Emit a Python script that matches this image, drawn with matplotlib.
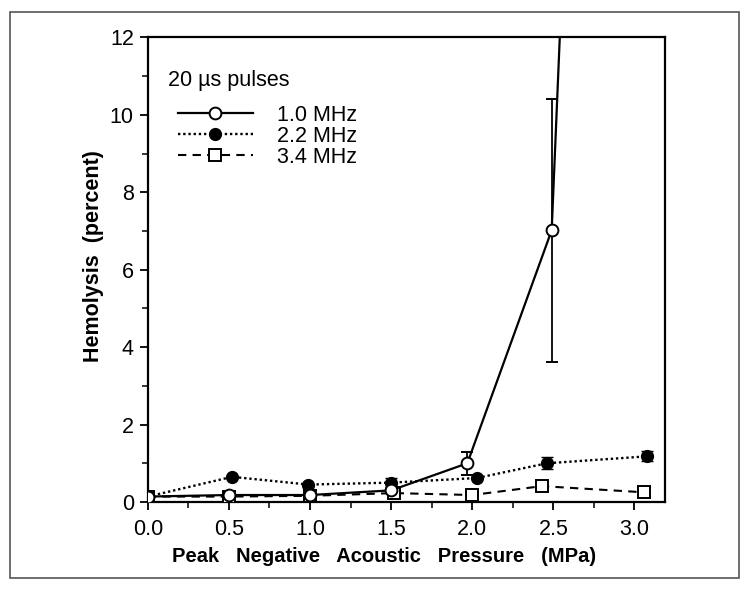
import matplotlib
matplotlib.use("Agg")
import matplotlib.pyplot as plt
from matplotlib.ticker import MultipleLocator, FormatStrFormatter
from matplotlib.patches import Rectangle
from matplotlib.lines import Line2D

plt.rcParams['font.family'] = ['Liberation Sans', 'DejaVu Sans']

# Data
x_10 = [0.0, 0.5, 1.0, 1.5, 1.97, 2.49, 3.08]
y_10 = [0.14, 0.18, 0.18, 0.30, 1.0, 7.02, 66.0]
e_10 = [0.0, 0.0, 0.0, 0.0, 0.3, 3.4, 0.0]

x_22 = [0.0, 0.52, 0.99, 1.50, 2.03, 2.46, 3.08]
y_22 = [0.14, 0.65, 0.45, 0.50, 0.62, 1.00, 1.18]
e_22 = [0.0, 0.0, 0.0, 0.12, 0.0, 0.15, 0.13]

x_34 = [0.0, 0.5, 1.0, 1.52, 2.00, 2.43, 3.06]
y_34 = [0.14, 0.14, 0.16, 0.23, 0.18, 0.41, 0.25]

labels = ["1.0 MHz", "2.2 MHz", "3.4 MHz"]
title_text = "20 \u00b5s pulses"
xlabel = "Peak   Negative   Acoustic   Pressure   (MPa)"
ylabel = "Hemolysis  (percent)"

dot = (0, (1, 1.2))
dash = (0, (4, 3))
ms = 8.5

fig = plt.figure(figsize=(7.5, 5.91), dpi=100)
ax = fig.add_axes([0.197, 0.1506, 0.69, 0.786])

# outer frame
fig.patches.append(Rectangle((0.013, 0.022), 0.972, 0.958, transform=fig.transFigure,
                             fill=False, edgecolor='#555555', linewidth=1.2))

ax.errorbar(x_22, y_22, yerr=e_22, fmt='o', linestyle=dot, color='black',
            markerfacecolor='black', markersize=ms, linewidth=1.7, capsize=4,
            elinewidth=1.5, zorder=3)
ax.errorbar(x_34, y_34, fmt='s', linestyle=dash, color='black',
            markerfacecolor='white', markersize=ms - 0.5, markeredgewidth=1.4,
            linewidth=1.5, zorder=4)
ax.errorbar(x_10, y_10, yerr=e_10, fmt='o', linestyle='-', color='black',
            markerfacecolor='white', markersize=ms, markeredgewidth=1.4,
            linewidth=1.6, capsize=4, elinewidth=1.3, zorder=5)

ax.set_xlim(0, 3.19)
ax.set_ylim(0, 12)
ax.xaxis.set_major_locator(MultipleLocator(0.5))
ax.xaxis.set_minor_locator(MultipleLocator(0.25))
ax.yaxis.set_major_locator(MultipleLocator(2))
ax.yaxis.set_minor_locator(MultipleLocator(1))
ax.xaxis.set_major_formatter(FormatStrFormatter('%.1f'))
ax.tick_params(which='major', direction='out', length=6, width=1.3, labelsize=15.5, pad=6)
ax.tick_params(axis='y', which='major', pad=4)
ax.tick_params(which='minor', direction='out', length=4, width=1.1)
for s in ax.spines.values():
    s.set_linewidth(1.6)

ax.set_xlabel(xlabel, fontsize=14.5, fontweight='bold')
ax.xaxis.set_label_coords(0.456, -0.097)
ax.set_ylabel(ylabel, fontsize=15.5, fontweight='bold')
ax.yaxis.set_label_coords(-0.085, 0.53)

ax.text(0.039, 0.908, title_text, transform=ax.transAxes, fontsize=15.5, va='center', ha='left')

handles = [
    Line2D([], [], color='black', linestyle='-', linewidth=1.6, marker='o',
           markerfacecolor='white', markersize=ms, markeredgewidth=1.4),
    Line2D([], [], color='black', linestyle=dot, linewidth=1.7, marker='o',
           markerfacecolor='black', markersize=ms),
    Line2D([], [], color='black', linestyle=dash, linewidth=1.5, marker='s',
           markerfacecolor='white', markersize=ms - 0.5, markeredgewidth=1.4),
]
leg = ax.legend(handles, labels, loc='upper left',
                bbox_to_anchor=(0.058, 0.855), frameon=False, fontsize=15.5,
                handlelength=3.5, handletextpad=1.1, labelspacing=0.0,
                borderaxespad=0, borderpad=0)

fig.savefig("out.png", dpi=100)
